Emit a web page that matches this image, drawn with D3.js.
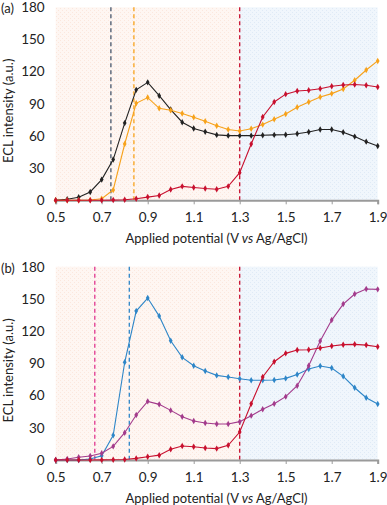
<!DOCTYPE html>
<html><head><meta charset="utf-8">
<script src="https://cdn.jsdelivr.net/npm/d3@7"></script>
<style>body{margin:0;background:#fff}svg{display:block}text{font-family:Lato,"Open Sans",sans-serif;fill:#222}</style>
</head><body><svg id="c" width="387" height="505"></svg>
<script>
const potentials = [0.5,0.55,0.6,0.65,0.7,0.75,0.8,0.85,0.9,0.95,1.0,1.05,1.1,1.15,1.2,1.25,1.3,1.35,1.4,1.45,1.5,1.55,1.6,1.65,1.7,1.75,1.8,1.85,1.9];
const aBlack  = [0,1,2.8,7.8,19.3,38,72,103,110,97.6,84.6,72.8,67,64,61,60.3,60.3,60.3,60.6,61,61.2,62,63.7,66,66,63.4,59.4,54.7,50.7];
const aOrange = [0,0,0,0.3,1.5,9.6,52.5,90.5,95.8,85.8,84,81,77.4,73.7,69.6,66,64.7,66.8,70.6,75.5,80.5,86.7,91.7,96.4,99.5,103.8,112,121.5,130];
const aRed    = [0,0,0,0,0.1,0.2,0.5,1.5,3,4.5,10,13,12,11,10.3,13,25.8,52.5,77.7,91.7,99,102,102.6,104,106.3,107.6,108,107.3,105.7];
const bBlue   = [0,0,0,1,4,23,91,138.7,150.8,134,111,95.6,87.8,82.9,78.8,77.3,75.7,74.2,74.2,74.5,76,79.7,84.7,87.5,85.6,77.9,67.3,58,52.1];
const bPurple = [0,1,2.5,3.7,6.2,12.7,25.4,41.9,54.6,51.8,46.2,40.3,36.3,34.4,33.5,33.5,35.7,41.3,47.2,52.4,59,69.2,87.8,110.8,130.3,145.2,154.5,159.2,158.9];
const bRed    = [0,0,0,0,0.1,0.2,0.5,1.5,3,4.5,10,13,12.4,11.2,10.6,13.7,26,52.4,77.3,91.5,99.3,102.4,102.7,104.3,106.1,107.4,107.7,107,105.5];
const aOnsets = [0.74,0.84,1.3];
const bOnsets = [0.67,0.82,1.3];
const xTicks = [0.5,0.7,0.9,1.1,1.3,1.5,1.7,1.9];
const yTicks = [0,30,60,90,120,150,180];
const regionSplit = 1.3;

const svg = d3.select("#c");
const defs = svg.append("defs");
function pat(id, bg, dot){
  const p = defs.append("pattern").attr("id",id).attr("width",4).attr("height",4).attr("patternUnits","userSpaceOnUse");
  p.append("rect").attr("width",4).attr("height",4).attr("fill",bg);
  p.append("rect").attr("x",0).attr("y",0).attr("width",1).attr("height",1).attr("fill",dot);
  p.append("rect").attr("x",2).attr("y",2).attr("width",1).attr("height",1).attr("fill",dot);
}
pat("peach","#fef6f2","#fbe7dd");
pat("blue","#f0f6fc","#dfeaf6");

function panel(top, bottom, label, series, onsets){
  const x = d3.scaleLinear().domain([0.5,1.9]).range([55.7,377.7]);
  const y = d3.scaleLinear().domain([0,180]).range([bottom, top]);
  const g = svg.append("g");
  g.append("rect").attr("x",x(0.5)).attr("y",y(180)).attr("width",x(regionSplit)-x(0.5)).attr("height",y(0)-y(180)).attr("fill","url(#peach)");
  g.append("rect").attr("x",x(regionSplit)).attr("y",y(180)).attr("width",x(1.9)-x(regionSplit)).attr("height",y(0)-y(180)).attr("fill","url(#blue)");
  onsets.forEach(o=>{
    g.append("line").attr("x1",x(o.v)).attr("x2",x(o.v)).attr("y1",y(180)).attr("y2",y(0))
      .attr("stroke",o.c).attr("stroke-width",1.3).attr("stroke-dasharray","4,3");
  });
  const xa = g.append("g").attr("transform",`translate(0,${y(0)})`)
    .call(d3.axisBottom(x).tickValues(xTicks).tickSize(4).tickPadding(8).tickFormat(d3.format(".1f")));
  xa.select(".domain").attr("stroke","#9a9a9a").attr("stroke-width",2);
  xa.selectAll(".tick line").attr("stroke","#9a9a9a");
  xa.selectAll("text").attr("font-size",13.5);
  const ya = g.append("g").attr("transform",`translate(${x(0.5)},0)`)
    .call(d3.axisLeft(y).tickValues(yTicks).tickSize(0).tickPadding(11));
  ya.select(".domain").remove();
  ya.selectAll("text").attr("font-size",13.5);
  const line = d3.line().x((d,i)=>x(potentials[i])).y(d=>y(d));
  series.forEach(s=>{
    g.append("path").datum(s.v).attr("d",line).attr("fill","none").attr("stroke",s.c).attr("stroke-width",1.1);
    g.selectAll(null).data(s.v).enter().append("path")
      .attr("transform",(d,i)=>`translate(${x(potentials[i])},${y(d)})`)
      .attr("d",d3.symbol().type(d3.symbolDiamond).size(12)).attr("fill",s.c);
  });
  g.append("text").attr("x",216.5).attr("y",bottom+43).attr("text-anchor","middle").attr("font-size",13)
    .html('Applied potential (V <tspan font-style="italic">vs</tspan> Ag/AgCl)');
  g.append("text").attr("transform",`translate(13,${(top+bottom)/2+7}) rotate(-90)`).attr("text-anchor","middle").attr("font-size",13).text("ECL intensity (a.u.)");
  g.append("text").attr("x",1).attr("y",top+6).attr("font-size",13).text(label);
}
panel(7.3,200.3,"(a)",[
  {v:aBlack,c:"#222222"},{v:aOrange,c:"#f7a21b"},{v:aRed,c:"#c8102e"}],
  [{v:aOnsets[0],c:"#44546a"},{v:aOnsets[1],c:"#f7a21b"},{v:aOnsets[2],c:"#c8102e"}]);
panel(266.7,460,"(b)",[
  {v:bBlue,c:"#2e86c8"},{v:bPurple,c:"#a33b8c"},{v:bRed,c:"#c8102e"}],
  [{v:bOnsets[0],c:"#e0358f"},{v:bOnsets[1],c:"#2e86c8"},{v:bOnsets[2],c:"#c8102e"}]);
</script></body></html>
